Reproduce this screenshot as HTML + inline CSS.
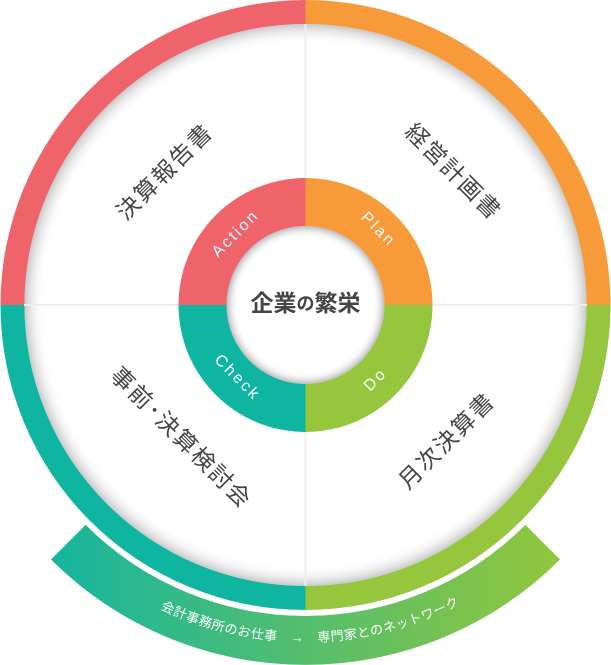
<!DOCTYPE html>
<html><head><meta charset="utf-8"><style>
html,body{margin:0;padding:0;background:#fff;}
svg{display:block;}
text{font-family:"Liberation Sans","Noto Sans CJK JP",sans-serif;}
</style></head><body>
<svg width="611" height="665" viewBox="0 0 611 665" xmlns="http://www.w3.org/2000/svg">
<defs>
<linearGradient id="bg" x1="0" x2="1" y1="0" y2="0">
<stop offset="0" stop-color="#15b5a0"/><stop offset="1" stop-color="#93c63c"/>
</linearGradient>
<radialGradient id="osh" cx="305.5" cy="305" r="281" gradientUnits="userSpaceOnUse">
<stop offset="0.93" stop-color="#fff" stop-opacity="0"/><stop offset="1" stop-color="#bbb" stop-opacity="0.8"/>
</radialGradient>
<radialGradient id="ish" cx="305.5" cy="305" r="79" gradientUnits="userSpaceOnUse">
<stop offset="0.85" stop-color="#fff" stop-opacity="0"/><stop offset="1" stop-color="#aaa" stop-opacity="0.8"/>
</radialGradient>
<path id="barc" d="M 67.2 543.3 A 337 337 0 0 0 543.8 543.3"/>
</defs>
<path d="M 85.6 524.9 A 311 311 0 0 0 525.4 524.9 L 560 559.5 A 360 360 0 0 1 51 559.5 Z" fill="url(#bg)"/>
<path d="M305.5 305 L305.5 0 A305 305 0 0 0 0.5 305 Z" fill="#ef636b"/>
<path d="M305.5 305 L305.5 0 A305 305 0 0 1 610.5 305 Z" fill="#f79a3a"/>
<path d="M305.5 305 L610.5 305 A305 305 0 0 1 305.5 610 Z" fill="#95c63e"/>
<path d="M305.5 305 L305.5 610 A305 305 0 0 1 0.5 305 Z" fill="#10b5a2"/>
<circle cx="305.5" cy="305" r="281" fill="#fff"/>
<circle cx="305.5" cy="305" r="281" fill="url(#osh)"/>
<line x1="305.5" y1="24" x2="305.5" y2="586" stroke="#eee" stroke-width="2"/>
<line x1="24" y1="305" x2="587" y2="305" stroke="#eee" stroke-width="2"/>
<path d="M305.5 305 L305.5 178 A127 127 0 0 0 178.5 305 Z" fill="#ef636b"/>
<path d="M305.5 305 L305.5 178 A127 127 0 0 1 432.5 305 Z" fill="#f79a3a"/>
<path d="M305.5 305 L432.5 305 A127 127 0 0 1 305.5 432 Z" fill="#95c63e"/>
<path d="M305.5 305 L305.5 432 A127 127 0 0 1 178.5 305 Z" fill="#10b5a2"/>
<circle cx="305.5" cy="305" r="79" fill="#fff"/>
<circle cx="305.5" cy="305" r="79" fill="url(#ish)"/>
<text x="305.5" y="305" text-anchor="middle" dominant-baseline="middle" font-size="23" font-weight="bold" fill="#444">企業<tspan font-size="18">の</tspan>繁栄</text>
<g fill="#fff" font-size="16" letter-spacing="2.5" text-anchor="middle" dominant-baseline="middle">
<text transform="translate(236,234) rotate(-45)">Action</text>
<text transform="translate(378,230) rotate(45)">Plan</text>
<text transform="translate(237,378) rotate(45)">Check</text>
<text transform="translate(376,380) rotate(-45)">Do</text>
</g>
<g fill="#444" font-size="23" letter-spacing="2" text-anchor="middle" dominant-baseline="middle">
<text transform="translate(166,173) rotate(-45)">決算報告書</text>
<text transform="translate(452,173) rotate(45)">経営計画書</text>
<text transform="translate(180,439) rotate(45)">事前･決算検討会</text>
<text transform="translate(448,442) rotate(-45)">月次決算書</text>
</g>
<text font-size="13" fill="#fff" letter-spacing="0.5"><textPath href="#barc" startOffset="51%" text-anchor="middle">会計事務所のお仕事　→　専門家とのネットワーク</textPath></text>
</svg>
</body></html>
